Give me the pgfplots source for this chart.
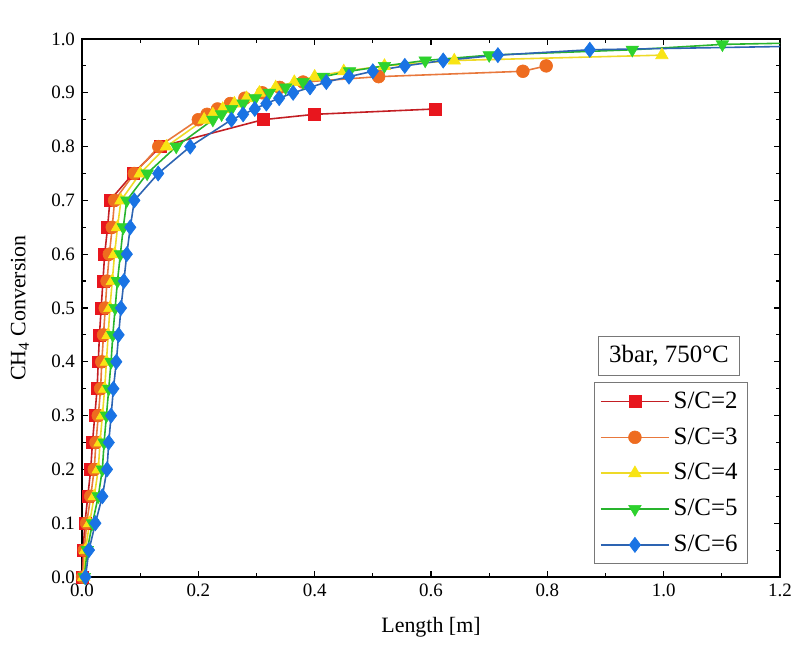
\documentclass[border=0pt]{standalone}
\usepackage{fontspec}
\setmainfont{Liberation Serif}
\usepackage{pgfplots}
\pgfplotsset{compat=1.18}
\definecolor{mRed}{RGB}{232,22,30}
\definecolor{lRed}{RGB}{195,30,35}
\definecolor{mOrange}{RGB}{238,108,32}
\definecolor{lOrange}{RGB}{232,120,60}
\definecolor{mYellow}{RGB}{248,228,20}
\definecolor{lYellow}{RGB}{238,218,40}
\definecolor{mGreen}{RGB}{45,210,45}
\definecolor{lGreen}{RGB}{40,180,45}
\definecolor{mBlue}{RGB}{25,115,228}
\definecolor{lBlue}{RGB}{45,100,178}
\definecolor{frameGray}{RGB}{120,120,120}
\begin{document}
\begin{tikzpicture}
\begin{axis}[
  name=ax,
  scale only axis,
  width=349bp, height=269bp,
  xmin=0, xmax=1.2, ymin=0, ymax=1.0,
  xtick={0,0.2,...,1.2}, ytick={0,0.1,...,1.0},
  minor x tick num=1, minor y tick num=1,
  tick pos=both, tick align=inside,
  major tick length=3.2bp, minor tick length=1.8bp,
  axis line style={line width=0.9pt, black},
  every tick/.style={black, line width=0.6pt},
  /pgf/number format/assume math mode=true,
  xticklabel style={/pgf/number format/.cd,fixed,fixed zerofill,precision=1},
  yticklabel style={/pgf/number format/.cd,fixed,fixed zerofill,precision=1},
  tick label style={font=\fontsize{9.5}{11}\selectfont},
  xlabel={Length [m]},
  ylabel={CH\textsubscript{4} Conversion},
  label style={font=\fontsize{11}{13}\selectfont},
  xlabel style={at={(axis description cs:0.5,-0.093)}, anchor=center},
  ylabel style={at={(axis description cs:-0.089,0.5)}, anchor=center},
  legend style={at={(axis description cs:0.733,0.362)}, anchor=north west,
    draw=frameGray, line width=0.5pt, font=\fontsize{12.5}{14}\selectfont,
    row sep=4.2bp, inner xsep=3bp, inner ysep=2.5bp},
  legend cell align=left,
  legend image code/.code={\draw[line width=0.8pt, mark repeat=2,mark phase=2] plot coordinates {(0bp,0bp) (17bp,0bp) (34bp,0bp)};},
  every axis plot/.append style={line width=0.8pt},
]
% S/C=2
\addplot[lRed, mark=square*, mark size=3pt, mark options={draw=mRed, fill=mRed, line width=0.3pt}] coordinates {
(0.000,0.00) (0.002,0.05) (0.005,0.10) (0.010,0.15) (0.015,0.20) (0.018,0.25)
(0.022,0.30) (0.026,0.35) (0.028,0.40) (0.030,0.45) (0.033,0.50) (0.036,0.55)
(0.039,0.60) (0.044,0.65) (0.048,0.70) (0.088,0.75) (0.135,0.80) (0.311,0.85)
(0.400,0.86) (0.608,0.87)};
\addlegendentry{S/C=2}
% S/C=3
\addplot[lOrange, mark=*, mark size=3.2pt, mark options={draw=mOrange, fill=mOrange, line width=0.3pt}] coordinates {
(0.001,0.00) (0.004,0.05) (0.008,0.10) (0.015,0.15) (0.021,0.20) (0.024,0.25)
(0.028,0.30) (0.032,0.35) (0.034,0.40) (0.037,0.45) (0.040,0.50) (0.043,0.55)
(0.047,0.60) (0.052,0.65) (0.056,0.70) (0.090,0.75) (0.132,0.80) (0.200,0.85)
(0.215,0.86) (0.233,0.87) (0.255,0.88) (0.280,0.89) (0.310,0.90) (0.340,0.91)
(0.380,0.92) (0.510,0.93) (0.758,0.94) (0.798,0.95)};
\addlegendentry{S/C=3}
% S/C=4
\addplot[lYellow, mark=triangle*, mark size=3.6pt, mark options={draw=mYellow, fill=mYellow, line width=0.3pt}] coordinates {
(0.003,0.00) (0.006,0.05) (0.013,0.10) (0.021,0.15) (0.028,0.20) (0.031,0.25)
(0.035,0.30) (0.039,0.35) (0.042,0.40) (0.045,0.45) (0.048,0.50) (0.052,0.55)
(0.056,0.60) (0.061,0.65) (0.067,0.70) (0.100,0.75) (0.145,0.80) (0.210,0.85)
(0.225,0.86) (0.242,0.87) (0.262,0.88) (0.283,0.89) (0.305,0.90) (0.333,0.91)
(0.365,0.92) (0.400,0.93) (0.450,0.94) (0.520,0.95) (0.640,0.96) (0.997,0.97)};
\addlegendentry{S/C=4}
% S/C=5
\addplot[lGreen, mark=triangle*, mark size=3.6pt, mark options={rotate=180, draw=mGreen, fill=mGreen, line width=0.3pt}] coordinates {
(0.004,0.00) (0.009,0.05) (0.018,0.10) (0.028,0.15) (0.035,0.20) (0.038,0.25)
(0.042,0.30) (0.046,0.35) (0.050,0.40) (0.053,0.45) (0.057,0.50) (0.061,0.55)
(0.066,0.60) (0.071,0.65) (0.077,0.70) (0.112,0.75) (0.162,0.80) (0.225,0.85)
(0.240,0.86) (0.257,0.87) (0.277,0.88) (0.298,0.89) (0.322,0.90) (0.350,0.91)
(0.380,0.92) (0.415,0.93) (0.460,0.94) (0.520,0.95) (0.590,0.96) (0.700,0.97)
(0.946,0.98) (1.101,0.99)};
\addlegendentry{S/C=5}
% S/C=6
\addplot[lBlue, mark=diamond*, mark size=3.8pt, mark options={draw=mBlue, fill=mBlue, line width=0.3pt}] coordinates {
(0.006,0.00) (0.012,0.05) (0.023,0.10) (0.035,0.15) (0.043,0.20) (0.046,0.25)
(0.050,0.30) (0.054,0.35) (0.059,0.40) (0.063,0.45) (0.067,0.50) (0.072,0.55)
(0.077,0.60) (0.083,0.65) (0.090,0.70) (0.131,0.75) (0.186,0.80) (0.257,0.85)
(0.277,0.86) (0.297,0.87) (0.317,0.88) (0.339,0.89) (0.363,0.90) (0.392,0.91)
(0.420,0.92) (0.459,0.93) (0.500,0.94) (0.555,0.95) (0.621,0.96) (0.715,0.97)
(0.873,0.98)};
\addlegendentry{S/C=6}
% line continuations to the right edge
\addplot[lGreen, no markers, forget plot] coordinates {(1.101,0.99) (1.2,0.992)};
\addplot[lBlue, no markers, forget plot] coordinates {(0.873,0.98) (1.2,0.986)};
\node[draw=frameGray, line width=0.5pt, font=\fontsize{12.5}{14}\selectfont, inner xsep=5.5bp, inner ysep=4.5bp]
  at (axis description cs:0.841,0.411) {3bar, 750°C};
\node[font=\fontsize{10.5}{12}\selectfont, anchor=center] at (axis description cs:0.5,1.05) {SMR};
\end{axis}
\path ([xshift=-41bp,yshift=-42.5bp]ax.south west) rectangle ([xshift=10bp,yshift=19.5bp]ax.north east);
\end{tikzpicture}
\end{document}
